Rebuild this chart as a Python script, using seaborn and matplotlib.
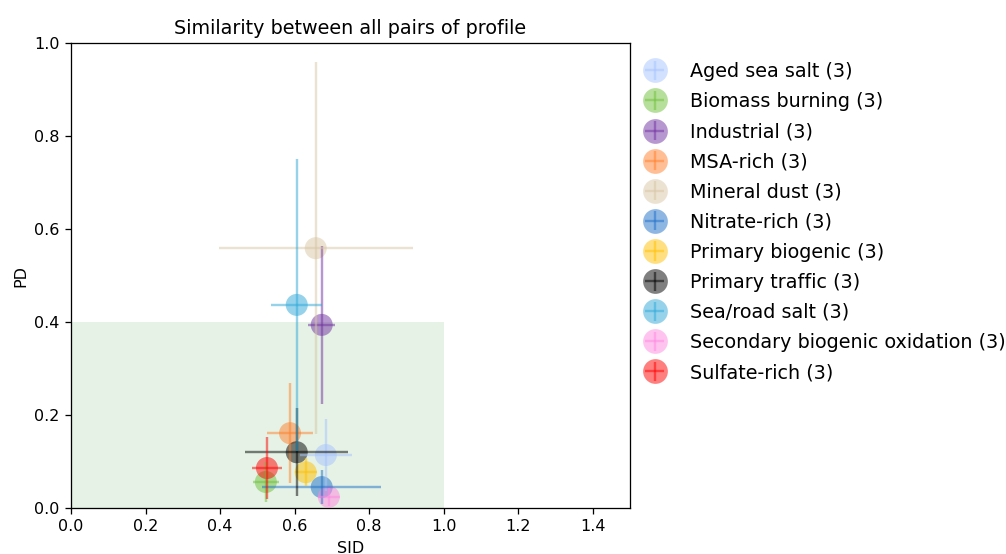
import numpy as np
import pandas as pd
import matplotlib
matplotlib.use("Agg")
import matplotlib.pyplot as plt
import seaborn as sns
from matplotlib.patches import Rectangle

# profiles, mean SID / PD and std between pairs
profiles = ["Aged sea salt", "Biomass burning", "Industrial", "MSA-rich",
            "Mineral dust", "Nitrate-rich", "Primary biogenic", "Primary traffic",
            "Sea/road salt", "Secondary biogenic oxidation", "Sulfate-rich"]
n_pairs = [3, 3, 3, 3, 3, 3, 3, 3, 3, 3, 3]
sid_mean = [0.684, 0.523, 0.673, 0.588, 0.657, 0.673, 0.630, 0.606, 0.606, 0.692, 0.526]
sid_std = [0.070, 0.035, 0.036, 0.062, 0.260, 0.160, 0.030, 0.138, 0.068, 0.030, 0.040]
pd_mean = [0.114, 0.056, 0.394, 0.161, 0.559, 0.045, 0.077, 0.120, 0.437, 0.024, 0.086]
pd_std = [0.077, 0.043, 0.170, 0.107, 0.400, 0.037, 0.030, 0.095, 0.314, 0.020, 0.067]
colors = ["#a6c4ff", "#6fc03a", "#7030a0", "#ff7f2a", "#d9c6a5", "#1e6fc8",
          "#ffc000", "#000000", "#2ea8d8", "#ff88e0", "#ff0000"]

df = pd.DataFrame({"profile": profiles, "SID": sid_mean, "PD": pd_mean,
                   "SID_std": sid_std, "PD_std": pd_std})

DPI = 115
fig, ax = plt.subplots(figsize=(1006 / DPI, 554 / DPI), dpi=DPI)
fig.subplots_adjust(left=0.0706, right=0.626, top=0.922, bottom=0.083)

# zone of "similar" profiles
ax.add_patch(Rectangle((0, 0), 1, 0.4, facecolor="green", alpha=0.1, edgecolor="none"))

sns.scatterplot(data=df, x="SID", y="PD", hue="profile", palette=colors,
                s=190, alpha=0.5, edgecolor="none", legend=False, ax=ax, zorder=3)

handles = []
for i, p in enumerate(profiles):
    ax.errorbar(sid_mean[i], pd_mean[i], xerr=sid_std[i], yerr=pd_std[i],
                fmt="none", ecolor=colors[i], alpha=0.5, elinewidth=1.5, zorder=4)
    # proxy for the legend (marker + cross)
    h = ax.errorbar([np.nan], [np.nan], xerr=[np.nan], yerr=[np.nan], fmt="o",
                    ms=15.5, mec="none", color=colors[i], alpha=0.5, elinewidth=1.5,
                    label="{} ({})".format(p, n_pairs[i]))
    handles.append(h)

ax.legend(handles=handles, loc="upper left", bbox_to_anchor=(1.0, 0.972), frameon=False,
          fontsize=12, handletextpad=0.82, labelspacing=0.58,
          borderaxespad=0, borderpad=0.3)

ax.set_xlim(0, 1.5)
ax.set_ylim(0, 1.0)
ax.set_xlabel("SID")
ax.set_ylabel("PD")
ax.set_title("Similarity between all pairs of profile")

plt.savefig("out.png", dpi=DPI)
